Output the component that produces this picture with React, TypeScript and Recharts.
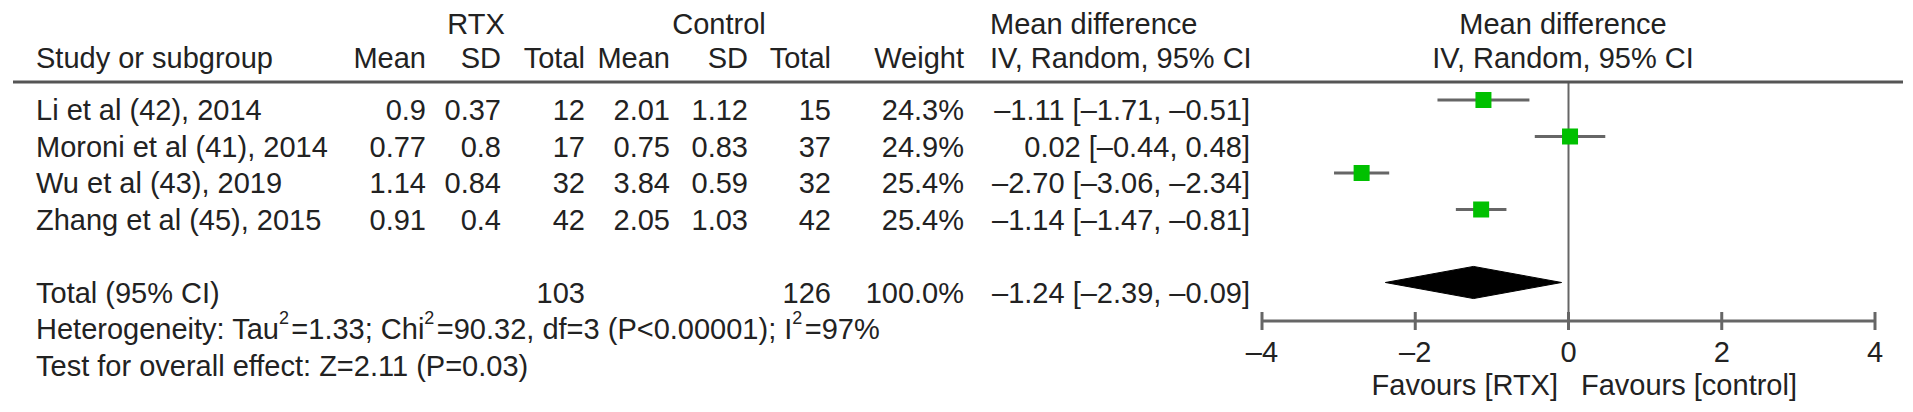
import React from 'react';
import { ComposedChart, XAxis, YAxis, Scatter, ErrorBar, Area, ReferenceLine } from 'recharts';

// study table values
const studies = ['Li et al (42), 2014', 'Moroni et al (41), 2014', 'Wu et al (43), 2019', 'Zhang et al (45), 2015'];
const rtxMean = [0.9, 0.77, 1.14, 0.91];
const rtxSd = [0.37, 0.8, 0.84, 0.4];
const rtxTotal = [12, 17, 32, 42];
const ctlMean = [2.01, 0.75, 3.84, 2.05];
const ctlSd = [1.12, 0.83, 0.59, 1.03];
const ctlTotal = [15, 37, 32, 42];
const weights = ['24.3%', '24.9%', '25.4%', '25.4%'];
const md = [-1.11, 0.02, -2.7, -1.14];
const ciLow = [-1.71, -0.44, -3.06, -1.47];
const ciHigh = [-0.51, 0.48, -2.34, -0.81];

// pooled result
const pooledMd = -1.24;
const pooledLow = -2.39;
const pooledHigh = -0.09;
const pooledRtx = 103;
const pooledCtl = 126;
const pooledWeight = '100.0%';

const xTicks = [-4, -2, 0, 2, 4];

const W = 1913;
const H = 412;
const FONT = '"Liberation Sans", Arial, Helvetica, sans-serif';
const FS = 29;
const TEXT = '#222';
const ROW_PX = 36.5;
const rowY = (k: number) => 63.5 + ROW_PX * k; // marker centre of row k
const textY = (k: number) => rowY(k) + 10;
const TOTAL_ROW = 6;
const DIAMOND_H = 0.44;

const dash = (s: string) => s.replace(/-/g, '\u2013');
const fmtCi = (m: number, lo: number, hi: number) =>
  dash(`${m.toFixed(2)} [${lo.toFixed(2)}, ${hi.toFixed(2)}]`);

const studyPoints = studies.map((s, i) => ({
  name: s,
  x: md[i],
  y: i + 1,
  err: [md[i] - ciLow[i], ciHigh[i] - md[i]],
}));

const diamondData = [
  { x: pooledLow, band: [TOTAL_ROW, TOTAL_ROW] },
  { x: pooledMd, band: [TOTAL_ROW - DIAMOND_H, TOTAL_ROW + DIAMOND_H] },
  { x: pooledHigh, band: [TOTAL_ROW, TOTAL_ROW] },
];

const Square = (props: any) => {
  const { cx, cy } = props;
  return <rect x={cx - 8} y={cy - 8} width={16} height={16} fill="#00c000" />;
};

const AxisTick = (props: any) => {
  const { x, y, payload } = props;
  return (
    <g>
      <line x1={x} x2={x} y1={y - 9} y2={y + 9} stroke="#666" strokeWidth={3} />
      <text x={x} y={y + 31} textAnchor="middle" dominantBaseline="central"
        fontSize={FS} fontFamily={FONT} fill={TEXT}>
        {dash(String(payload.value))}
      </text>
    </g>
  );
};

const T = ({ x, y, a = 'start', children }: any) => (
  <text x={x} y={y} textAnchor={a} dominantBaseline="central" fontSize={FS} fontFamily={FONT} fill={TEXT}>
    {children}
  </text>
);

const Sup = ({ children }: any) => (
  <>
    <tspan fontSize={18} dy={-11}>{children}</tspan>
    <tspan dy={11}>{'\u200a'}</tspan>
  </>
);

// column anchors (right edges for numbers)
const COL = { study: 36, rMean: 426, rSd: 501, rTot: 585, cMean: 670, cSd: 748, cTot: 831, wt: 964, ciL: 990, ciR: 1250 };

function Table() {
  return (
    <svg width={W} height={H} style={{ position: 'absolute', left: 0, top: 0, pointerEvents: 'none' }}>
      <T x={476} y={24} a="middle">RTX</T>
      <T x={719} y={24} a="middle">Control</T>
      <T x={COL.ciL} y={24}>Mean difference</T>
      <T x={1563} y={24} a="middle">Mean difference</T>

      <T x={COL.study} y={58}>Study or subgroup</T>
      <T x={COL.rMean} y={58} a="end">Mean</T>
      <T x={COL.rSd} y={58} a="end">SD</T>
      <T x={COL.rTot} y={58} a="end">Total</T>
      <T x={COL.cMean} y={58} a="end">Mean</T>
      <T x={COL.cSd} y={58} a="end">SD</T>
      <T x={COL.cTot} y={58} a="end">Total</T>
      <T x={COL.wt} y={58} a="end">Weight</T>
      <T x={COL.ciL} y={58}>IV, Random, 95% CI</T>
      <T x={1563} y={58} a="middle">IV, Random, 95% CI</T>

      <line x1={13} x2={1903} y1={82} y2={82} stroke="#555" strokeWidth={3} />

      {studies.map((s, i) => {
        const y = textY(i + 1);
        return (
          <g key={s}>
            <T x={COL.study} y={y}>{s}</T>
            <T x={COL.rMean} y={y} a="end">{String(rtxMean[i])}</T>
            <T x={COL.rSd} y={y} a="end">{String(rtxSd[i])}</T>
            <T x={COL.rTot} y={y} a="end">{rtxTotal[i]}</T>
            <T x={COL.cMean} y={y} a="end">{String(ctlMean[i])}</T>
            <T x={COL.cSd} y={y} a="end">{String(ctlSd[i])}</T>
            <T x={COL.cTot} y={y} a="end">{ctlTotal[i]}</T>
            <T x={COL.wt} y={y} a="end">{weights[i]}</T>
            <T x={COL.ciR} y={y} a="end">{fmtCi(md[i], ciLow[i], ciHigh[i])}</T>
          </g>
        );
      })}

      <T x={COL.study} y={textY(TOTAL_ROW)}>Total (95% CI)</T>
      <T x={COL.rTot} y={textY(TOTAL_ROW)} a="end">{pooledRtx}</T>
      <T x={COL.cTot} y={textY(TOTAL_ROW)} a="end">{pooledCtl}</T>
      <T x={COL.wt} y={textY(TOTAL_ROW)} a="end">{pooledWeight}</T>
      <T x={COL.ciR} y={textY(TOTAL_ROW)} a="end">{fmtCi(pooledMd, pooledLow, pooledHigh)}</T>

      <T x={COL.study} y={textY(TOTAL_ROW + 1)}>
        Heterogeneity: Tau<Sup>2</Sup>=1.33; Chi<Sup>2</Sup>=90.32, df=3 (P&lt;0.00001); I<Sup>2</Sup>=97%
      </T>
      <T x={COL.study} y={textY(TOTAL_ROW + 2)}>Test for overall effect: Z=2.11 (P=0.03)</T>

      <T x={1558} y={385} a="end">Favours [RTX]</T>
      <T x={1581} y={385}>Favours [control]</T>
    </svg>
  );
}

export default function App() {
  return (
    <div style={{ position: 'absolute', left: 0, top: 0, width: W, height: H, background: '#fff' }}>
      <ComposedChart width={W} height={H} data={diamondData}
        margin={{ top: 82, right: 38, bottom: 61, left: 1262 }}>
        <XAxis type="number" dataKey="x" domain={[-4, 4]} ticks={xTicks} interval={0}
          allowDataOverflow height={30} tickSize={0} tickMargin={0} tickLine={false}
          axisLine={{ stroke: '#666', strokeWidth: 3 }} tick={<AxisTick />} />
        <YAxis type="number" dataKey="y" domain={[0.507, 7.055]} reversed hide allowDataOverflow />
        <ReferenceLine x={0} stroke="#666" strokeWidth={2} />
        <Area dataKey="band" type="linear" fill="#000" fillOpacity={1} stroke="#000"
          dot={false} activeDot={false} isAnimationActive={false} />
        <Scatter data={studyPoints} dataKey="y" shape={<Square />} isAnimationActive={false}>
          <ErrorBar dataKey="err" direction="x" width={0} stroke="#666" strokeWidth={3} />
        </Scatter>
      </ComposedChart>
      <Table />
    </div>
  );
}
